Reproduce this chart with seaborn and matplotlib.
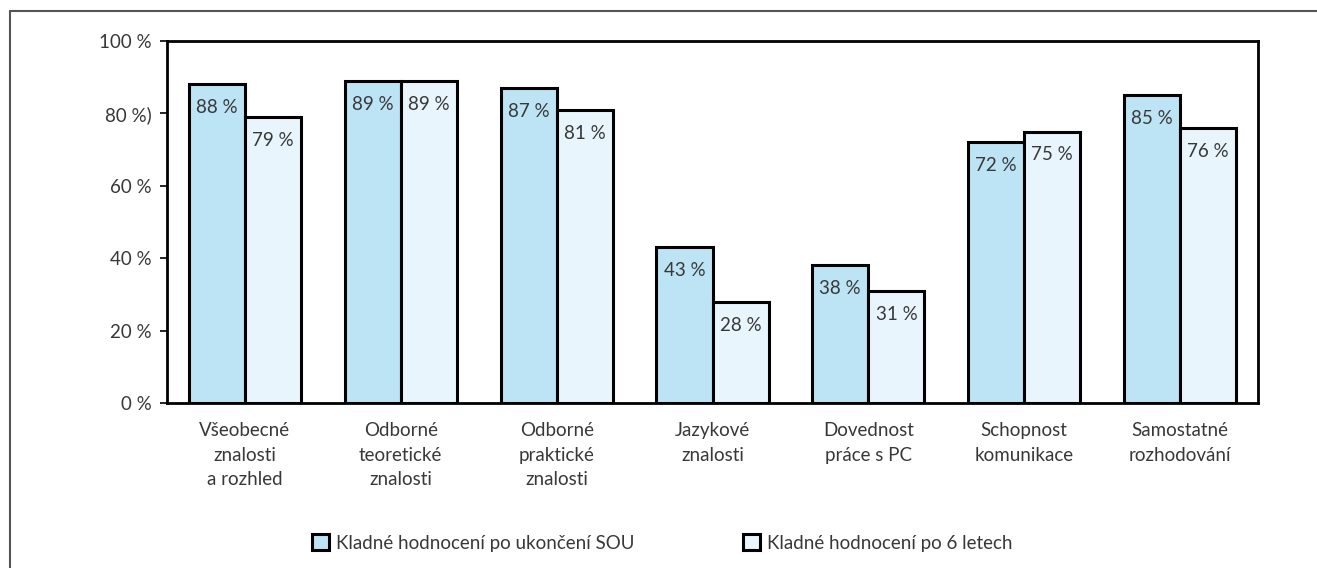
import pandas as pd
import numpy as np
import matplotlib
matplotlib.use('Agg')
import matplotlib.pyplot as plt
import seaborn as sns
from matplotlib.lines import Line2D

categories = ['Všeobecné\nznalosti\na rozhled', 'Odborné\nteoretické\nznalosti',
              'Odborné\npraktické\nznalosti', 'Jazykové\nznalosti',
              'Dovednost\npráce s PC', 'Schopnost\nkomunikace', 'Samostatné\nrozhodování']
series = ['Kladné hodnocení po ukončení SOU', 'Kladné hodnocení po 6 letech']
after_sou = [88, 89, 87, 43, 38, 72, 85]
after_6 = [79, 89, 81, 28, 31, 75, 76]
ytick_vals = [0, 20, 40, 60, 80, 100]
ytick_labels = ['0 %', '20 %', '40 %', '60 %', '80 %)', '100 %']

df = pd.DataFrame({
    'cat': categories * 2,
    'serie': [series[0]] * 7 + [series[1]] * 7,
    'val': after_sou + after_6,
})

sns.set_style('white')
plt.rcParams['font.family'] = ['Lato', 'DejaVu Sans']
plt.rcParams['font.weight'] = 'normal'
txt = '#383838'
fs = 13.5

fig = plt.figure(figsize=(13.17, 5.68), dpi=100)
ax = fig.add_axes([167/1317, 1-403/568, (1258-167)/1317, (403-41)/568])

sns.barplot(data=df, x='cat', y='val', hue='serie', order=categories, hue_order=series,
            palette=['#bde4f4', '#e8f5fc'], edgecolor='black', linewidth=2.2,
            width=0.72, saturation=1, ax=ax)

ax.set_xlim(-0.5, 6.5)
ax.set_ylim(0, 100)
ax.set_yticks(ytick_vals)
ax.set_yticklabels(ytick_labels, fontsize=fs, color=txt)
ax.set_xticks(range(len(categories)))
ax.set_xticklabels(categories, fontsize=fs, color=txt, linespacing=1.53)
ax.tick_params(axis='y', length=5, width=1.2, color='black', direction='out', pad=6, left=True)
ax.tick_params(axis='x', length=0, pad=14)
ax.set_xlabel('')
ax.set_ylabel('')
for s in ax.spines.values():
    s.set_visible(True)
    s.set_color('black')
    s.set_linewidth(2)

for cont in ax.containers:
    ax.bar_label(cont, fmt='%d %%', padding=-23, fontsize=fs, color=txt)

ax.legend(loc='center', bbox_to_anchor=(0.4537, (403-543)/362), ncol=2, frameon=False,
          fontsize=fs, handlelength=0.9, handleheight=0.9, handletextpad=0.37,
          columnspacing=5.8, labelcolor=txt)

# outer frame (left and top edges)
fig.add_artist(Line2D([10/1317, 10/1317], [0, 1-11/568], transform=fig.transFigure,
                      color='#555555', linewidth=1.5))
fig.add_artist(Line2D([10/1317, 1], [1-11/568, 1-11/568], transform=fig.transFigure,
                      color='#555555', linewidth=1.5))

fig.savefig('out.png', dpi=100)
